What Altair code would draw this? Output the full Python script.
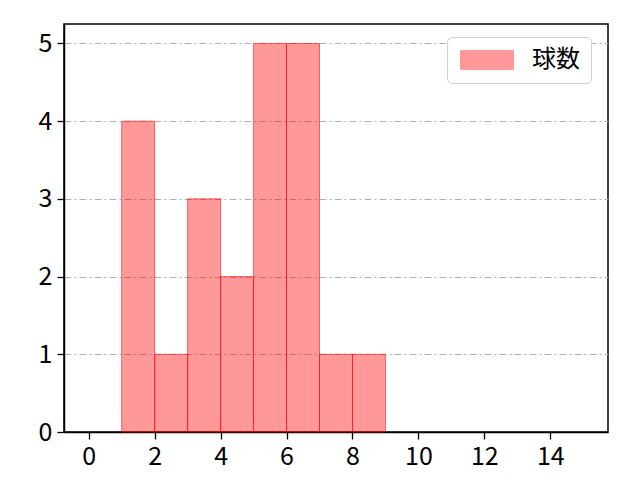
import altair as alt
import pandas as pd

bin_start = [1, 2, 3, 4, 5, 6, 7, 8]
bin_end = [2, 3, 4, 5, 6, 7, 8, 9]
counts = [4, 1, 3, 2, 5, 5, 1, 1]
series = ["球数"] * len(counts)

df = pd.DataFrame({"start": bin_start, "end": bin_end, "count": counts, "series": series})

FONT = "Noto Sans CJK JP"

bars = alt.Chart(df).mark_rect(
    fillOpacity=0.4, strokeOpacity=0.55, strokeWidth=1
).encode(
    x=alt.X("start:Q", scale=alt.Scale(domain=[-0.75, 15.75], nice=False, zero=False),
            axis=alt.Axis(values=[0, 2, 4, 6, 8, 10, 12, 14], grid=False, title=None,
                          labelFontSize=25, tickSize=7, labelPadding=5)),
    x2="end:Q",
    y=alt.Y("count:Q", scale=alt.Scale(domain=[0, 5.25], nice=False),
            axis=alt.Axis(values=[0, 1, 2, 3, 4, 5], grid=True, title=None,
                          labelFontSize=25, tickSize=7, labelPadding=5,
                          gridColor="#b0b0b0", gridDash=[7, 3, 2, 3], gridWidth=1)),
    y2=alt.datum(0),
    color=alt.Color("series:N", scale=alt.Scale(range=["#ff0000"]),
                    legend=alt.Legend(title=None, orient="none", legendX=383, legendY=13,
                                      padding=11, strokeColor="#d0d0d0", cornerRadius=5,
                                      fillColor="white",
                                      symbolType="M-1,-1L4.58,-1L4.58,1L-1,1Z",
                                      symbolSize=361, symbolOpacity=0.4,
                                      symbolStrokeWidth=1,
                                      labelFontSize=24, labelOffset=50, labelColor="black")),
    stroke=alt.Color("series:N", scale=alt.Scale(range=["#ff0000"]), legend=None),
)

chart = bars.properties(
    width=544, height=408,
    autosize=alt.AutoSizeParams(type="none"),
    padding={"left": 56, "top": 16, "right": 24, "bottom": 40},
).configure_view(
    stroke="black", strokeWidth=1.5
).configure_axis(
    domainColor="black", domainWidth=1.5, tickColor="black", tickWidth=1.3,
    labelColor="black", labelFont=FONT
).configure_legend(
    labelFont=FONT
)

chart.save("out.html", embed_options={"renderer": "svg", "actions": False})
